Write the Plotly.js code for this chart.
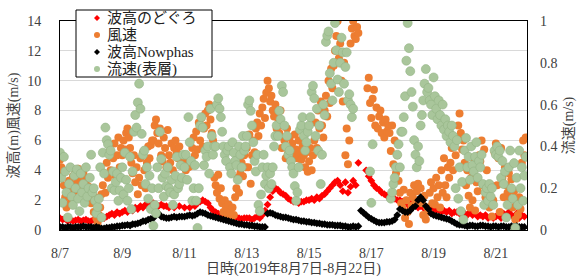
<!DOCTYPE html>
<html>
<head>
<meta charset="utf-8">
<script src="https://cdn.plot.ly/plotly-3.0.1.min.js"></script>
<style>html,body{margin:0;padding:0;background:#fff;}#chart{width:580px;height:277px;}</style>
</head>
<body>
<div id="chart"></div>
<script>
// ---- data ----
// sampling: wave heights every 2 h, wind & current every 1 h, starting 2019-08-07 00:00
const startDate = '2019-08-07';
const endDate = '2019-08-22';
const seriesNames = ['波高のどぐろ', '風速', '波高Nowphas', '流速(表層)'];
const xTickLabels = ['8/7','8/9','8/11','8/13','8/15','8/17','8/19','8/21'];

// 波高のどぐろ (m), 2-hourly
const waveDoguro = [
  0.8,0.7,0.75,0.6,0.7,0.6,0.65,0.7,0.6,0.65,0.7,0.6,
  0.6,0.7,0.6,0.7,0.8,0.8,0.9,1.0,1.1,1.0,1.2,1.1,
  1.2,1.3,1.2,1.4,1.3,1.5,1.4,1.6,1.5,1.7,1.6,1.8,
  1.8,1.7,1.6,1.7,1.6,1.6,1.5,null,1.5,null,1.6,null,
  1.5,null,1.5,null,1.6,1.8,1.9,2.0,1.9,1.8,1.5,1.3,
  1.2,1.1,1.0,0.95,0.9,0.85,0.9,0.8,0.85,0.8,0.75,0.8,
  0.8,0.8,0.7,0.8,0.9,0.8,1.0,1.3,1.7,2.2,2.6,2.8,
  2.7,2.5,2.4,2.3,2.1,2.0,1.9,2.0,1.8,1.9,1.9,2.0,
  2.0,2.1,2.0,2.2,2.1,2.3,2.4,2.6,2.8,3.0,3.2,3.3,
  3.0,2.6,3.2,2.5,2.9,3.3,3.0,4.5,null,null,4.0,3.6,
  3.3,3.0,2.8,2.7,2.5,2.4,2.3,2.2,2.2,2.1,2.0,2.0,
  1.9,1.8,1.7,1.8,1.6,1.7,1.5,1.6,1.5,1.4,1.5,1.4,
  1.4,1.3,1.4,1.2,1.3,1.2,1.3,1.1,1.2,1.2,1.1,1.2,
  1.1,1.0,1.2,1.0,1.1,0.9,1.0,0.9,1.0,0.8,0.9,0.8,
  0.9,1.0,0.8,1.1,0.9,1.2,1.0,0.9,1.1,0.8,1.0,0.9
];

// 風速 (m/s), hourly
const windSpeed = [
  4.7,4.2,3.8,3.0,2.2,1.5,2.5,3.3,1.8,2.8,3.6,2.6,3.9,3.2,4.1,2.9,3.5,2.7,3.8,3.0,2.6,3.4,2.9,2.2,
  1.8,2.7,1.2,2.2,0.8,0.5,1.0,1.5,2.4,3.0,3.8,2.5,4.5,3.5,5.2,4.0,2.8,4.8,5.8,3.6,5.0,6.2,4.2,5.5,
  5.0,6.0,5.4,6.5,6.8,6.2,5.5,4.5,3.8,5.0,3.2,4.2,2.4,3.5,4.8,3.0,5.2,4.0,2.8,4.5,5.6,4.8,5.7,6.0,
  6.0,7.0,7.4,6.5,5.8,6.8,5.0,4.6,6.2,5.5,4.2,6.7,5.0,4.5,5.8,4.0,5.5,6.0,5.2,4.8,5.6,5.0,4.4,4.8,
  4.5,4.0,4.6,4.2,null,4.3,5.5,6.2,5.0,6.6,5.4,7.2,6.0,7.5,5.6,6.8,7.8,7.0,8.0,8.4,7.4,6.5,6.0,3.5,
  3.0,2.5,3.7,2.1,2.8,1.8,1.2,2.0,1.5,1.0,1.7,1.2,0.8,1.5,1.0,2.2,2.8,3.5,2.5,3.8,4.5,3.6,5.0,4.2,
  5.5,4.2,6.4,3.1,5.0,6.0,5.2,6.8,7.2,6.3,7.8,7.0,8.2,8.8,7.5,9.2,10.0,9.5,8.6,9.0,8.0,7.6,8.4,6.8,
  7.5,6.5,8.0,5.5,7.0,6.0,4.8,6.8,5.2,6.2,4.6,5.8,5.0,6.4,5.4,4.8,6.0,5.2,4.7,5.6,5.0,4.2,5.2,3.9,
  4.6,5.5,4.0,5.0,6.0,7.2,5.5,8.0,6.8,8.6,7.0,6.2,8.0,9.0,7.6,10.0,8.5,10.8,9.5,11.0,12.0,13.0,14.0,11.5,
  12.5,10.0,8.6,11.2,5.0,6.8,4.4,6.0,12.5,13.5,14.0,13.0,12.8,13.6,13.2,null,null,null,null,null,null,9.5,10.2,8.5,
  7.5,8.8,9.4,7.0,8.2,6.8,7.6,8.0,6.5,7.2,6.2,7.4,6.6,7.0,6.5,5.3,7.0,4.4,6.0,3.8,5.0,3.3,2.5,1.8,
  1.5,2.7,0.8,2.0,1.2,0.4,2.5,1.6,2.2,3.0,1.9,2.6,3.1,2.0,2.8,1.8,1.0,2.3,0.7,1.5,1.2,2.5,3.2,1.8,
  2.8,1.7,3.5,2.2,3.0,1.5,4.0,2.5,4.8,3.0,2.2,4.2,3.5,4.5,5.5,4.0,5.8,5.0,6.2,7.0,7.8,6.5,5.4,6.0,
  4.5,3.0,4.0,2.3,1.5,3.5,2.0,4.8,1.3,3.2,2.6,5.0,4.6,6.0,3.0,5.4,2.2,4.0,2.5,1.5,3.0,0.9,2.0,5.2,
  5.8,3.0,4.8,1.2,5.5,3.5,2.2,4.2,3.0,2.5,3.8,2.1,3.4,1.5,2.6,0.7,1.8,1.0,2.2,1.4,4.5,6.0,5.0,6.2
];

// 波高Nowphas (m), 2-hourly
const waveNowphas = [
  0.2,0.2,0.15,0.2,0.2,0.15,0.2,0.2,0.2,0.25,0.2,0.2,
  0.2,0.15,0.2,0.15,0.1,0.1,0.15,0.15,0.2,0.2,0.25,0.25,
  0.3,0.3,0.35,0.3,0.4,0.4,0.45,0.5,0.6,0.6,0.7,0.75,
  0.8,1.2,1.1,0.9,0.85,0.8,0.8,0.85,0.9,0.85,0.9,0.9,
  0.9,0.95,1.0,0.95,1.0,1.1,1.2,1.15,1.1,1.0,0.95,0.9,
  0.85,0.8,0.75,0.7,0.65,0.6,0.55,0.5,0.45,0.4,0.4,0.35,
  0.35,0.3,0.3,0.25,0.25,0.2,0.2,0.2,1.1,1.15,1.1,1.0,
  0.95,0.9,0.85,0.85,0.8,0.75,0.7,0.7,0.65,0.6,0.6,0.55,
  0.55,0.5,0.5,0.45,0.45,0.4,0.4,0.35,0.35,0.35,0.3,0.3,
  0.3,0.25,0.25,0.2,0.2,0.25,0.2,0.25,1.3,1.15,1.0,0.85,
  0.75,0.65,0.55,0.5,0.5,0.5,0.55,0.55,0.6,0.7,1.0,1.4,
  1.3,1.2,1.2,1.3,1.5,1.6,2.0,2.2,2.0,1.6,1.4,1.1,
  1.0,0.95,0.9,0.85,0.8,0.75,0.7,0.6,0.5,0.4,0.35,0.35,
  0.3,0.25,0.3,0.3,0.25,0.25,0.3,0.3,0.25,0.25,0.2,0.25,
  0.25,0.2,0.25,0.25,0.2,0.2,0.25,0.2,0.25,0.2,0.2,0.2
];

// 流速(表層) (m/s), hourly, right axis
const currentSpeed = [
  0.37,0.25,0.13,0.35,0.28,0.18,0.06,0.22,0.3,0.16,0.12,0.26,0.2,0.29,0.15,0.09,0.27,0.18,0.22,0.13,0.3,0.16,0.2,0.25,
  0.36,0.18,0.2,0.14,0.08,0.11,0.15,0.3,0.06,0.37,0.27,0.49,0.43,0.41,0.36,0.38,0.2,0.28,0.19,0.23,0.27,0.14,0.19,0.25,
  0.3,0.17,0.37,0.24,0.14,0.2,0.35,0.1,0.28,0.47,0.55,0.49,0.61,0.7,0.58,0.46,0.36,0.38,0.22,0.3,0.15,0.26,0.1,0.2,
  0.02,0.12,0.08,0.3,0.2,0.47,0.34,0.25,0.16,0.27,0.21,0.3,0.2,0.18,0.24,0.12,0.17,0.26,0.35,0.2,0.22,0.31,0.25,0.36,
  0.3,0.36,0.24,0.54,0.42,0.33,0.14,0.2,0.31,0.14,0.01,0.2,0.5,0.54,0.49,0.31,0.38,0.35,0.4,0.27,0.58,0.45,0.36,0.4,
  0.4,0.6,0.63,0.58,0.54,0.47,0.4,0.36,0.33,0.38,0.4,0.3,0.27,0.42,0.37,0.33,0.31,0.24,0.4,0.36,0.3,0.45,0.38,0.4,
  0.45,0.6,0.62,0.57,0.5,0.42,0.33,0.28,0.36,0.12,0.09,0.17,0.3,0.36,0.22,0.26,0.3,0.2,0.27,0.22,0.3,0.4,0.45,0.5,
  0.45,0.57,0.53,0.69,0.66,0.5,0.4,0.45,0.36,0.38,0.33,0.3,0.27,0.21,0.14,0.18,0.3,0.48,0.5,0.54,0.45,0.38,0.42,0.47,
  0.5,0.54,0.66,0.69,0.63,0.45,0.58,0.38,0.5,0.22,0.36,0.6,0.55,0.9,0.93,0.95,0.75,0.7,0.62,0.8,0.99,0.86,0.72,0.66,
  0.8,0.92,0.85,0.7,0.78,0.85,0.62,0.65,0.6,0.54,0.58,null,null,null,null,null,null,null,null,null,null,null,null,0.28,
  0.13,0.41,null,null,null,null,null,null,null,null,null,null,null,null,null,0.15,0.18,0.22,0.25,0.3,0.36,0.41,0.3,0.47,
  0.47,0.54,0.64,0.81,0.99,0.87,0.76,0.66,0.59,0.43,0.36,0.3,0.4,0.33,0.5,0.55,0.62,0.7,0.77,0.66,0.68,0.62,0.6,0.55,
  0.73,0.64,0.58,0.53,0.62,0.55,0.5,0.6,0.48,0.53,0.45,0.5,0.47,0.42,0.5,0.45,0.4,0.2,0.43,0.15,0.3,0.09,0.23,0.05,
  0.38,0.44,0.3,0.35,0.24,0.4,0.31,0.28,0.35,0.42,0.25,0.33,0.3,0.36,0.22,0.12,0.18,0.2,0.14,0.22,0.16,0.2,0.12,0.38,
  0.36,0.4,0.35,0.38,0.25,0.33,0.22,0.28,0.06,0.12,0.3,0.38,0.2,0.15,0.32,0.01,0.25,0.12,0.38,0.2,0.3,0.14,0.26,0.35
];

// ---- sampling times ----
function timeAxis(count, stepHours) {
  const t0 = Date.UTC(2019, 7, 7, 0, 0, 0);
  const out = [];
  for (let i = 0; i < count; i++) {
    out.push(new Date(t0 + i * stepHours * 3600000).toISOString().slice(0, 19).replace('T', ' '));
  }
  return out;
}
const t2h = timeAxis(waveDoguro.length, 2);
const t1h = timeAxis(windSpeed.length, 1);
const t2hB = timeAxis(waveNowphas.length, 2);
const t1hC = timeAxis(currentSpeed.length, 1);

const tickDates = ['2019-08-07','2019-08-09','2019-08-11','2019-08-13','2019-08-15','2019-08-17','2019-08-19','2019-08-21'];

const FONT = 'Liberation Serif, Noto Sans CJK JP, serif';
const TXT = '#404040';

const colors = ['#ff0000', '#ed7d31', '#000000', '#a9c69b'];

const traces = [
  { x: t2h, y: waveDoguro, name: seriesNames[0], type: 'scatter', mode: 'markers',
    marker: { symbol: 'diamond', size: 6, color: colors[0] } },
  { x: t1h, y: windSpeed, name: seriesNames[1], type: 'scatter', mode: 'markers',
    marker: { symbol: 'circle', size: 8, color: colors[1] } },
  { x: t2hB, y: waveNowphas, name: seriesNames[2], type: 'scatter', mode: 'markers',
    marker: { symbol: 'diamond', size: 6, color: colors[2] } },
  { x: t1hC, y: currentSpeed, name: seriesNames[3], type: 'scatter', mode: 'markers', yaxis: 'y2',
    marker: { symbol: 'circle', size: 9, color: colors[3], line: { color: '#93b485', width: 0.6 } } }
];

// ---- legend box drawn in paper coordinates (plot area: 60..527 px wide, 21..230 px tall) ----
function px2x(px) { return (px - 60) / 467; }
function py2y(py) { return (230 - py) / 209; }
const legRows = [18, 35, 52, 69];
const legSymX = px2x(97);
const legTxtX = px2x(105);
const shapes = [
  { type: 'rect', xref: 'paper', yref: 'paper', x0: px2x(76), x1: px2x(212), y0: py2y(77), y1: py2y(10),
    line: { color: '#000', width: 1 }, fillcolor: '#ffffff', layer: 'above' }
];
const annotations = [];
legRows.forEach((ry, i) => {
  const isDiamond = (i === 0 || i === 2);
  const s = 3;
  const base = { xref: 'paper', yref: 'paper', xsizemode: 'pixel', ysizemode: 'pixel',
    xanchor: legSymX, yanchor: py2y(ry), fillcolor: colors[i], line: { width: 0, color: colors[i] }, layer: 'above' };
  if (isDiamond) {
    shapes.push(Object.assign({ type: 'path', path: `M0,${s} L${s},0 L0,${-s} L${-s},0 Z` }, base));
  } else {
    shapes.push(Object.assign({ type: 'circle', x0: -s, x1: s, y0: -s, y1: s }, base));
  }
  annotations.push({ xref: 'paper', yref: 'paper', x: legTxtX, y: py2y(ry), xanchor: 'left', yanchor: 'middle',
    text: seriesNames[i], showarrow: false, font: { family: FONT, size: 15, color: '#222' } });
});

const layout = {
  width: 580, height: 277,
  margin: { l: 60, r: 53, t: 21, b: 47, pad: 0 },
  paper_bgcolor: '#ffffff', plot_bgcolor: '#ffffff',
  font: { family: FONT, size: 14, color: TXT },
  showlegend: false,
  shapes: shapes,
  annotations: annotations,
  xaxis: {
    type: 'date', range: [startDate, endDate],
    tickmode: 'array', tickvals: tickDates, ticktext: xTickLabels,
    showgrid: false, zeroline: false,
    showline: true, linecolor: '#000', linewidth: 1, mirror: true,
    ticks: '', ticklabelstandoff: 10,
    tickfont: { family: FONT, size: 14, color: TXT },
    title: { text: '日時(2019年8月7日-8月22日)', font: { family: FONT, size: 14, color: TXT }, standoff: 4 }
  },
  yaxis: {
    range: [0, 14], dtick: 2, tick0: 0,
    showgrid: true, gridcolor: '#d9d9d9', gridwidth: 1, zeroline: false,
    showline: true, linecolor: '#000', linewidth: 1, mirror: true,
    ticks: '', ticklabelstandoff: 15,
    tickfont: { family: FONT, size: 14, color: TXT },
    title: { text: '波高(m)風速(m/s)', font: { family: FONT, size: 14, color: TXT }, standoff: 5 }
  },
  yaxis2: {
    overlaying: 'y', side: 'right',
    range: [0, 1], dtick: 0.2, tick0: 0,
    showgrid: false, zeroline: false, showline: false,
    ticks: '', ticklabelstandoff: 12,
    tickfont: { family: FONT, size: 14, color: TXT },
    title: { text: '流速(m/s)', font: { family: FONT, size: 14, color: TXT }, standoff: 6 }
  }
};

Plotly.newPlot('chart', traces, layout, { displayModeBar: false, staticPlot: true });
</script>
</body>
</html>
